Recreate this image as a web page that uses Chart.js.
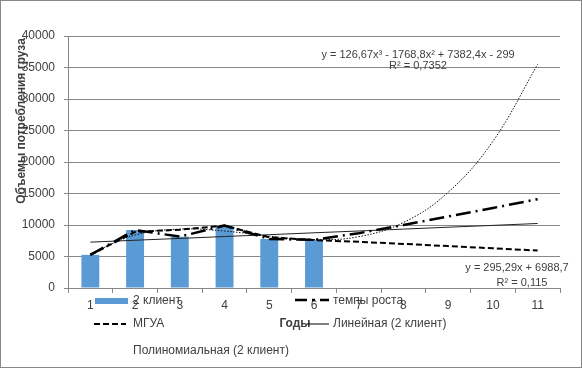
<!DOCTYPE html>
<html>
<head>
<meta charset="utf-8">
<script src="https://cdn.jsdelivr.net/npm/chart.js@4.4.1/dist/chart.umd.min.js"></script>
<style>
  html, body { margin: 0; padding: 0; background: #fff; }
  #wrap { width: 582px; height: 368px; position: relative; }
</style>
</head>
<body>
<div id="wrap"><canvas id="chart" width="582" height="368"></canvas></div>
<script>
const years = ['1', '2', '3', '4', '5', '6', '7', '8', '9', '10', '11'];
const client2 = [5260, 9210, 8150, 9900, 7790, 7630, null, null, null, null, null];
const growthRate = [5260, 9210, 8150, 9900, 7790, 7630, 8700, 10000, 11350, 12700, 14100];
const mgua = [5260, 8900, 9250, 9900, 8050, 7600, 7330, 7000, 6650, 6300, 5950];
const linearTrend = [7280, 7580, 7870, 8170, 8460, 8760, 9050, 9350, 9650, 9940, 10240];
const polyTrend = [5440, 8400, 9350, 9040, 8230, 7680, 8150, 10400, 15200, 23300, 35500];
const yTicks = [0, 5000, 10000, 15000, 20000, 25000, 30000, 35000, 40000];

const FONT = "'Liberation Sans', Arial, sans-serif";
const TXT = '#404040';
const GRID = '#888888';

// legend, titles and trend labels are drawn by hand, like Excel places them
const extras = {
  id: 'extras',
  afterDraw(chart) {
    const c = chart.ctx;
    c.save();
    c.fillStyle = TXT;
    c.textBaseline = 'middle';

    // y axis title
    c.save();
    c.translate(22, 121);
    c.rotate(-Math.PI / 2);
    c.textAlign = 'center';
    c.font = 'bold 12px ' + FONT;
    c.fillText('Объемы потребления груза', 0, 0);
    c.restore();

    // x axis title
    c.textAlign = 'center';
    c.font = 'bold 12px ' + FONT;
    c.fillText('Годы', 295, 324);

    // trend equations
    c.font = '11px ' + FONT;
    c.fillText('y = 126,67x³ - 1768,8x² + 7382,4x - 299', 418, 55);
    c.fillText('R² = 0,7352', 418, 66);
    c.fillText('y = 295,29x + 6988,7', 517, 268);
    c.fillText('R² = 0,115', 522, 283);

    // legend
    c.textAlign = 'left';
    c.font = '12px ' + FONT;
    c.fillStyle = '#5B9BD5';
    c.fillRect(95, 298, 33, 6);
    c.fillStyle = TXT;
    c.fillText('2 клиент', 133, 301);

    c.strokeStyle = '#000';
    c.lineWidth = 2.5;
    c.setLineDash([12, 5, 3, 5]);
    c.beginPath(); c.moveTo(295, 300); c.lineTo(329, 300); c.stroke();
    c.fillText('темпы роста', 333, 301);

    c.lineWidth = 2;
    c.setLineDash([6, 3]);
    c.beginPath(); c.moveTo(94, 324); c.lineTo(126, 324); c.stroke();
    c.fillText('МГУА', 133, 324);

    c.lineWidth = 1;
    c.setLineDash([]);
    c.beginPath(); c.moveTo(307, 324); c.lineTo(329, 324); c.stroke();
    c.fillText('Линейная (2 клиент)', 333, 324);

    c.fillText('Полиномиальная (2 клиент)', 133, 351);

    // frame
    c.strokeStyle = GRID;
    c.lineWidth = 1;
    c.strokeRect(0.5, 0.5, 581, 367);
    c.restore();
  }
};

new Chart(document.getElementById('chart').getContext('2d'), {
  data: {
    labels: years,
    datasets: [
      { type: 'line', label: 'темпы роста', data: growthRate, borderColor: '#000', borderWidth: 2.5,
        borderDash: [15, 5, 2, 5], pointRadius: 0, tension: 0, order: 1 },
      { type: 'line', label: 'МГУА', data: mgua, borderColor: '#000', borderWidth: 2,
        borderDash: [6, 3], pointRadius: 0, tension: 0, order: 2 },
      { type: 'line', label: 'Линейная (2 клиент)', data: linearTrend, borderColor: '#222', borderWidth: 1,
        pointRadius: 0, tension: 0, order: 3 },
      { type: 'line', label: 'Полиномиальная (2 клиент)', data: polyTrend, borderColor: '#111', borderWidth: 1,
        borderDash: [1.5, 1.5], pointRadius: 0, tension: 0.4, order: 4 },
      { type: 'bar', label: '2 клиент', data: client2, backgroundColor: '#5B9BD5',
        categoryPercentage: 1, barPercentage: 0.4, order: 10 }
    ]
  },
  options: {
    responsive: false,
    animation: false,
    layout: { padding: { left: 0, right: 22, top: 36, bottom: 0 } },
    plugins: { legend: { display: false }, tooltip: { enabled: false } },
    scales: {
      x: {
        offset: true,
        afterFit: (s) => { s.height = 80; },
        grid: { drawOnChartArea: false, drawTicks: true, tickLength: 5, color: GRID },
        border: { display: true, color: GRID },
        ticks: { color: TXT, font: { family: FONT, size: 12 }, padding: 5, maxRotation: 0 }
      },
      y: {
        min: 0, max: 40000,
        afterFit: (s) => { s.width = 68; },
        afterBuildTicks: (s) => { s.ticks = yTicks.map(v => ({ value: v })); },
        grid: { color: GRID, tickLength: 4 },
        border: { display: true, color: GRID },
        ticks: { color: TXT, font: { family: FONT, size: 12 }, padding: 9, callback: (v) => String(v) }
      }
    }
  },
  plugins: [extras]
});
</script>
</body>
</html>
